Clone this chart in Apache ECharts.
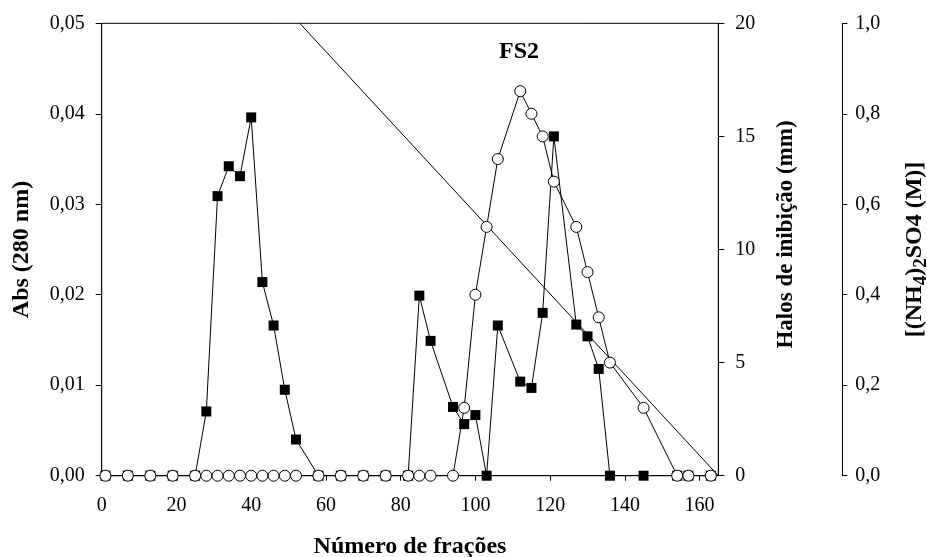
<!DOCTYPE html>
<html>
<head>
<meta charset="utf-8">
<script src="https://cdn.jsdelivr.net/npm/echarts@6/dist/echarts.min.js"></script>
<style>
html, body { margin: 0; padding: 0; background: #fff; }
#chart { width: 927px; height: 557px; }
</style>
</head>
<body>
<div id="chart"></div>
<script>
// fraction numbers (same for both measured series)
var fracoes = [1, 7, 13, 19, 25, 28, 31, 34, 37, 40, 43, 46, 49, 52, 58, 64, 70, 76, 82,
	85, 88, 94, 97, 100, 103, 106, 112, 115, 118, 121, 127, 130, 133, 136, 145, 154, 157, 163];
// Abs 280 nm (filled squares)
var abs280 = [0, 0, 0, 0, 0, 0.0071, 0.0309, 0.0342, 0.0331, 0.0396, 0.0214, 0.0166, 0.0095, 0.0040,
	0, 0, 0, 0, 0, 0.0199, 0.0149, 0.0076, 0.0057, 0.0067, 0,
	0.0166, 0.0104, 0.0097, 0.0180, 0.0375, 0.0167, 0.0154, 0.0118, 0, 0, 0, 0, 0];
// halos de inibicao, mm (open circles)
var halos = [0, 0, 0, 0, 0, 0, 0, 0, 0, 0, 0, 0, 0, 0, 0, 0, 0, 0, 0,
	0, 0, 0, 3, 8, 11, 14, 17, 16, 15, 13, 11, 9, 7, 5, 3, 0, 0, 0];
// (NH4)2SO4 gradient
var gradX = [53, 165];
var gradY = [1.0, 0];

function pairs(xs, ys) {
	var out = [];
	for (var i = 0; i < xs.length; i++) out.push([xs[i], ys[i]]);
	return out;
}

var serif = '"Liberation Serif", "Times New Roman", serif';
var dom = document.getElementById("chart");
var myChart = echarts.init(dom, null, { renderer: 'canvas' });

var option = {
	animation: false,
	backgroundColor: '#fff',
	textStyle: { fontFamily: serif, color: '#000' },
	title: {
		text: 'FS2',
		left: 499,
		top: 40,
		padding: 0,
		textStyle: { fontFamily: serif, fontSize: 24, fontWeight: 'bold', color: '#000' }
	},
	grid: {
		left: 101.7,
		right: 208.7,
		top: 23.3,
		bottom: 81.3,
		outerBoundsMode: 'none',
		containLabel: false,
		show: true,
		borderColor: '#000',
		borderWidth: 1
	},
	xAxis: {
		type: 'value',
		min: 0,
		max: 165,
		interval: 20,
		name: 'Número de frações',
		nameLocation: 'middle',
		nameGap: 59,
		nameTextStyle: { fontFamily: serif, fontSize: 24, fontWeight: 'bold', color: '#000' },
		axisLine: { lineStyle: { color: '#000', width: 1 } },
		axisTick: { inside: false, length: 5, lineStyle: { color: '#000' } },
		axisLabel: { fontFamily: serif, fontSize: 20, color: '#000', margin: 20, showMaxLabel: false },
		splitLine: { show: false }
	},
	yAxis: [{
		type: 'value',
		position: 'left',
		min: 0,
		max: 0.05,
		interval: 0.01,
		name: 'Abs (280 nm)',
		nameLocation: 'middle',
		nameRotate: 90,
		nameGap: 68,
		nameTextStyle: { fontFamily: serif, fontSize: 24, fontWeight: 'bold', color: '#000' },
		axisLine: { show: true, lineStyle: { color: '#000' } },
		axisTick: { show: true, length: 6, lineStyle: { color: '#000' } },
		axisLabel: {
			fontFamily: serif, fontSize: 20, color: '#000', margin: 17,
			formatter: function (v) { return v.toFixed(2).replace('.', ','); }
		},
		splitLine: { show: false }
	}, {
		type: 'value',
		position: 'right',
		min: 0,
		max: 20,
		interval: 5,
		name: 'Halos de inibição (mm)',
		nameLocation: 'middle',
		nameRotate: 90,
		nameGap: 56,
		nameTextStyle: {
			fontFamily: serif, fontSize: 23, fontWeight: 'bold', color: '#000',
			padding: [0, 0, 0, 30]
		},
		axisLine: { show: true, lineStyle: { color: '#000' } },
		axisTick: { show: true, length: 6, lineStyle: { color: '#000' } },
		axisLabel: { fontFamily: serif, fontSize: 20, color: '#000', margin: 17 },
		splitLine: { show: false }
	}, {
		type: 'value',
		position: 'right',
		offset: 124,
		min: 0,
		max: 1,
		interval: 0.2,
		name: '[(NH{s|4}){s|2}SO4 (M)]',
		nameLocation: 'middle',
		nameRotate: 90,
		nameGap: 57,
		nameTextStyle: {
			fontFamily: serif, fontSize: 24, fontWeight: 'bold', color: '#000',
			rich: {
				s: { fontFamily: serif, fontSize: 19, fontWeight: 'bold', color: '#000', padding: [12, 0, 0, 0] }
			}
		},
		axisLine: { show: true, lineStyle: { color: '#000' } },
		axisTick: { show: true, length: 5, lineStyle: { color: '#000' } },
		axisLabel: {
			fontFamily: serif, fontSize: 20, color: '#000', margin: 13,
			formatter: function (v) { return v.toFixed(1).replace('.', ','); }
		},
		splitLine: { show: false }
	}],
	series: [{
		name: 'NH4SO4',
		type: 'line',
		yAxisIndex: 2,
		data: pairs(gradX, gradY),
		symbol: 'none',
		lineStyle: { color: '#000', width: 1 },
		z: 1
	}, {
		name: 'Abs',
		type: 'line',
		yAxisIndex: 0,
		data: pairs(fracoes, abs280),
		symbol: 'rect',
		symbolSize: 10,
		itemStyle: { color: '#000', borderColor: '#000', borderWidth: 0 },
		lineStyle: { color: '#000', width: 1 },
		z: 2
	}, {
		name: 'Halos',
		type: 'line',
		yAxisIndex: 1,
		data: pairs(fracoes, halos),
		symbol: 'circle',
		symbolSize: 11,
		itemStyle: { color: '#fff', borderColor: '#000', borderWidth: 1 },
		lineStyle: { color: '#000', width: 1 },
		z: 3
	}]
};

if (option && typeof option === "object") {
	myChart.setOption(option, true);
}
</script>
</body>
</html>
